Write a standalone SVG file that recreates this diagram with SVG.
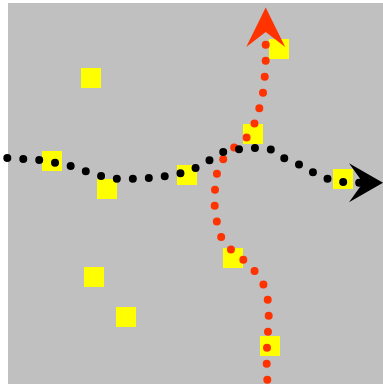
<svg xmlns="http://www.w3.org/2000/svg" width="383" height="384" viewBox="0 0 383 384">
<style>
.node{fill:#FFFF00}
.conn{fill:none;stroke-width:8;stroke-linecap:round;stroke-linejoin:round;stroke-dasharray:0 16}
</style>
<defs>
<marker id="arrowBlack" markerUnits="userSpaceOnUse" orient="auto" refX="0" refY="0" markerWidth="1" markerHeight="1" overflow="visible">
<path d="M20,0 L-14,-19.5 L0,0 L-14,19.5 Z" fill="#000000"/>
</marker>
<marker id="arrowRed" markerUnits="userSpaceOnUse" orient="auto" refX="0" refY="0" markerWidth="1" markerHeight="1" overflow="visible">
<path d="M24.5,0 L-15,-19.5 L0,0 L-15,19.5 Z" fill="#FF3300"/>
</marker>
</defs>
<rect x="8" y="3" width="375" height="381" fill="#C0C0C0"/>
<g id="nodes">
<rect id="n1" class="node" x="81" y="68" width="20" height="20"/>
<rect id="n2" class="node" x="269" y="39" width="20" height="20"/>
<rect id="n3" class="node" x="243" y="124" width="20" height="20"/>
<rect id="n4" class="node" x="42" y="151" width="20" height="20"/>
<rect id="n5" class="node" x="97" y="179" width="20" height="20"/>
<rect id="n6" class="node" x="177" y="165" width="20" height="20"/>
<rect id="n7" class="node" x="333" y="169" width="20" height="20"/>
<rect id="n8" class="node" x="223" y="248" width="20" height="20"/>
<rect id="n9" class="node" x="84" y="267" width="20" height="20"/>
<rect id="n10" class="node" x="116" y="307" width="20" height="20"/>
<rect id="n11" class="node" x="260" y="336" width="20" height="20"/>
</g>
<g id="connectors">
<path id="redPath" class="conn" stroke="#FF3300" marker-end="url(#arrowRed)" d="M267.3,379.7 L266.7,363.3 L267,347.7 L268,331.3 L268.7,315.7 L267.7,299.3 L263.3,284 L254.3,270.7 L243.3,259.7 L230.3,249 L221,236.7 L216.7,221 L214.7,206 L215,189.7 L217,173.3 L223.3,159 L234.3,147.3 L246.7,137.3 L254.3,124 L259.3,108.3 L263,92.7 L264.7,77 L265.7,60.7 L265.7,44.7 L265.7,32"/>
<path id="blackPath" class="conn" stroke="#000000" marker-end="url(#arrowBlack)" d="M7.3,158 L23,159 L39.3,160 L55.3,162.7 L70.7,166 L86,171.3 L101.3,176 L116.7,178.7 L132.7,178.7 L149,178 L164.7,176.3 L180.7,173.3 L195.7,168 L209.3,160.3 L223.3,152 L238.7,149.3 L254.7,148 L270.3,149.3 L283.7,158 L298.7,164.3 L312.3,172 L326.7,178.7 L342.3,182 L358,182.7 L363,182.7"/>
</g>
</svg>
